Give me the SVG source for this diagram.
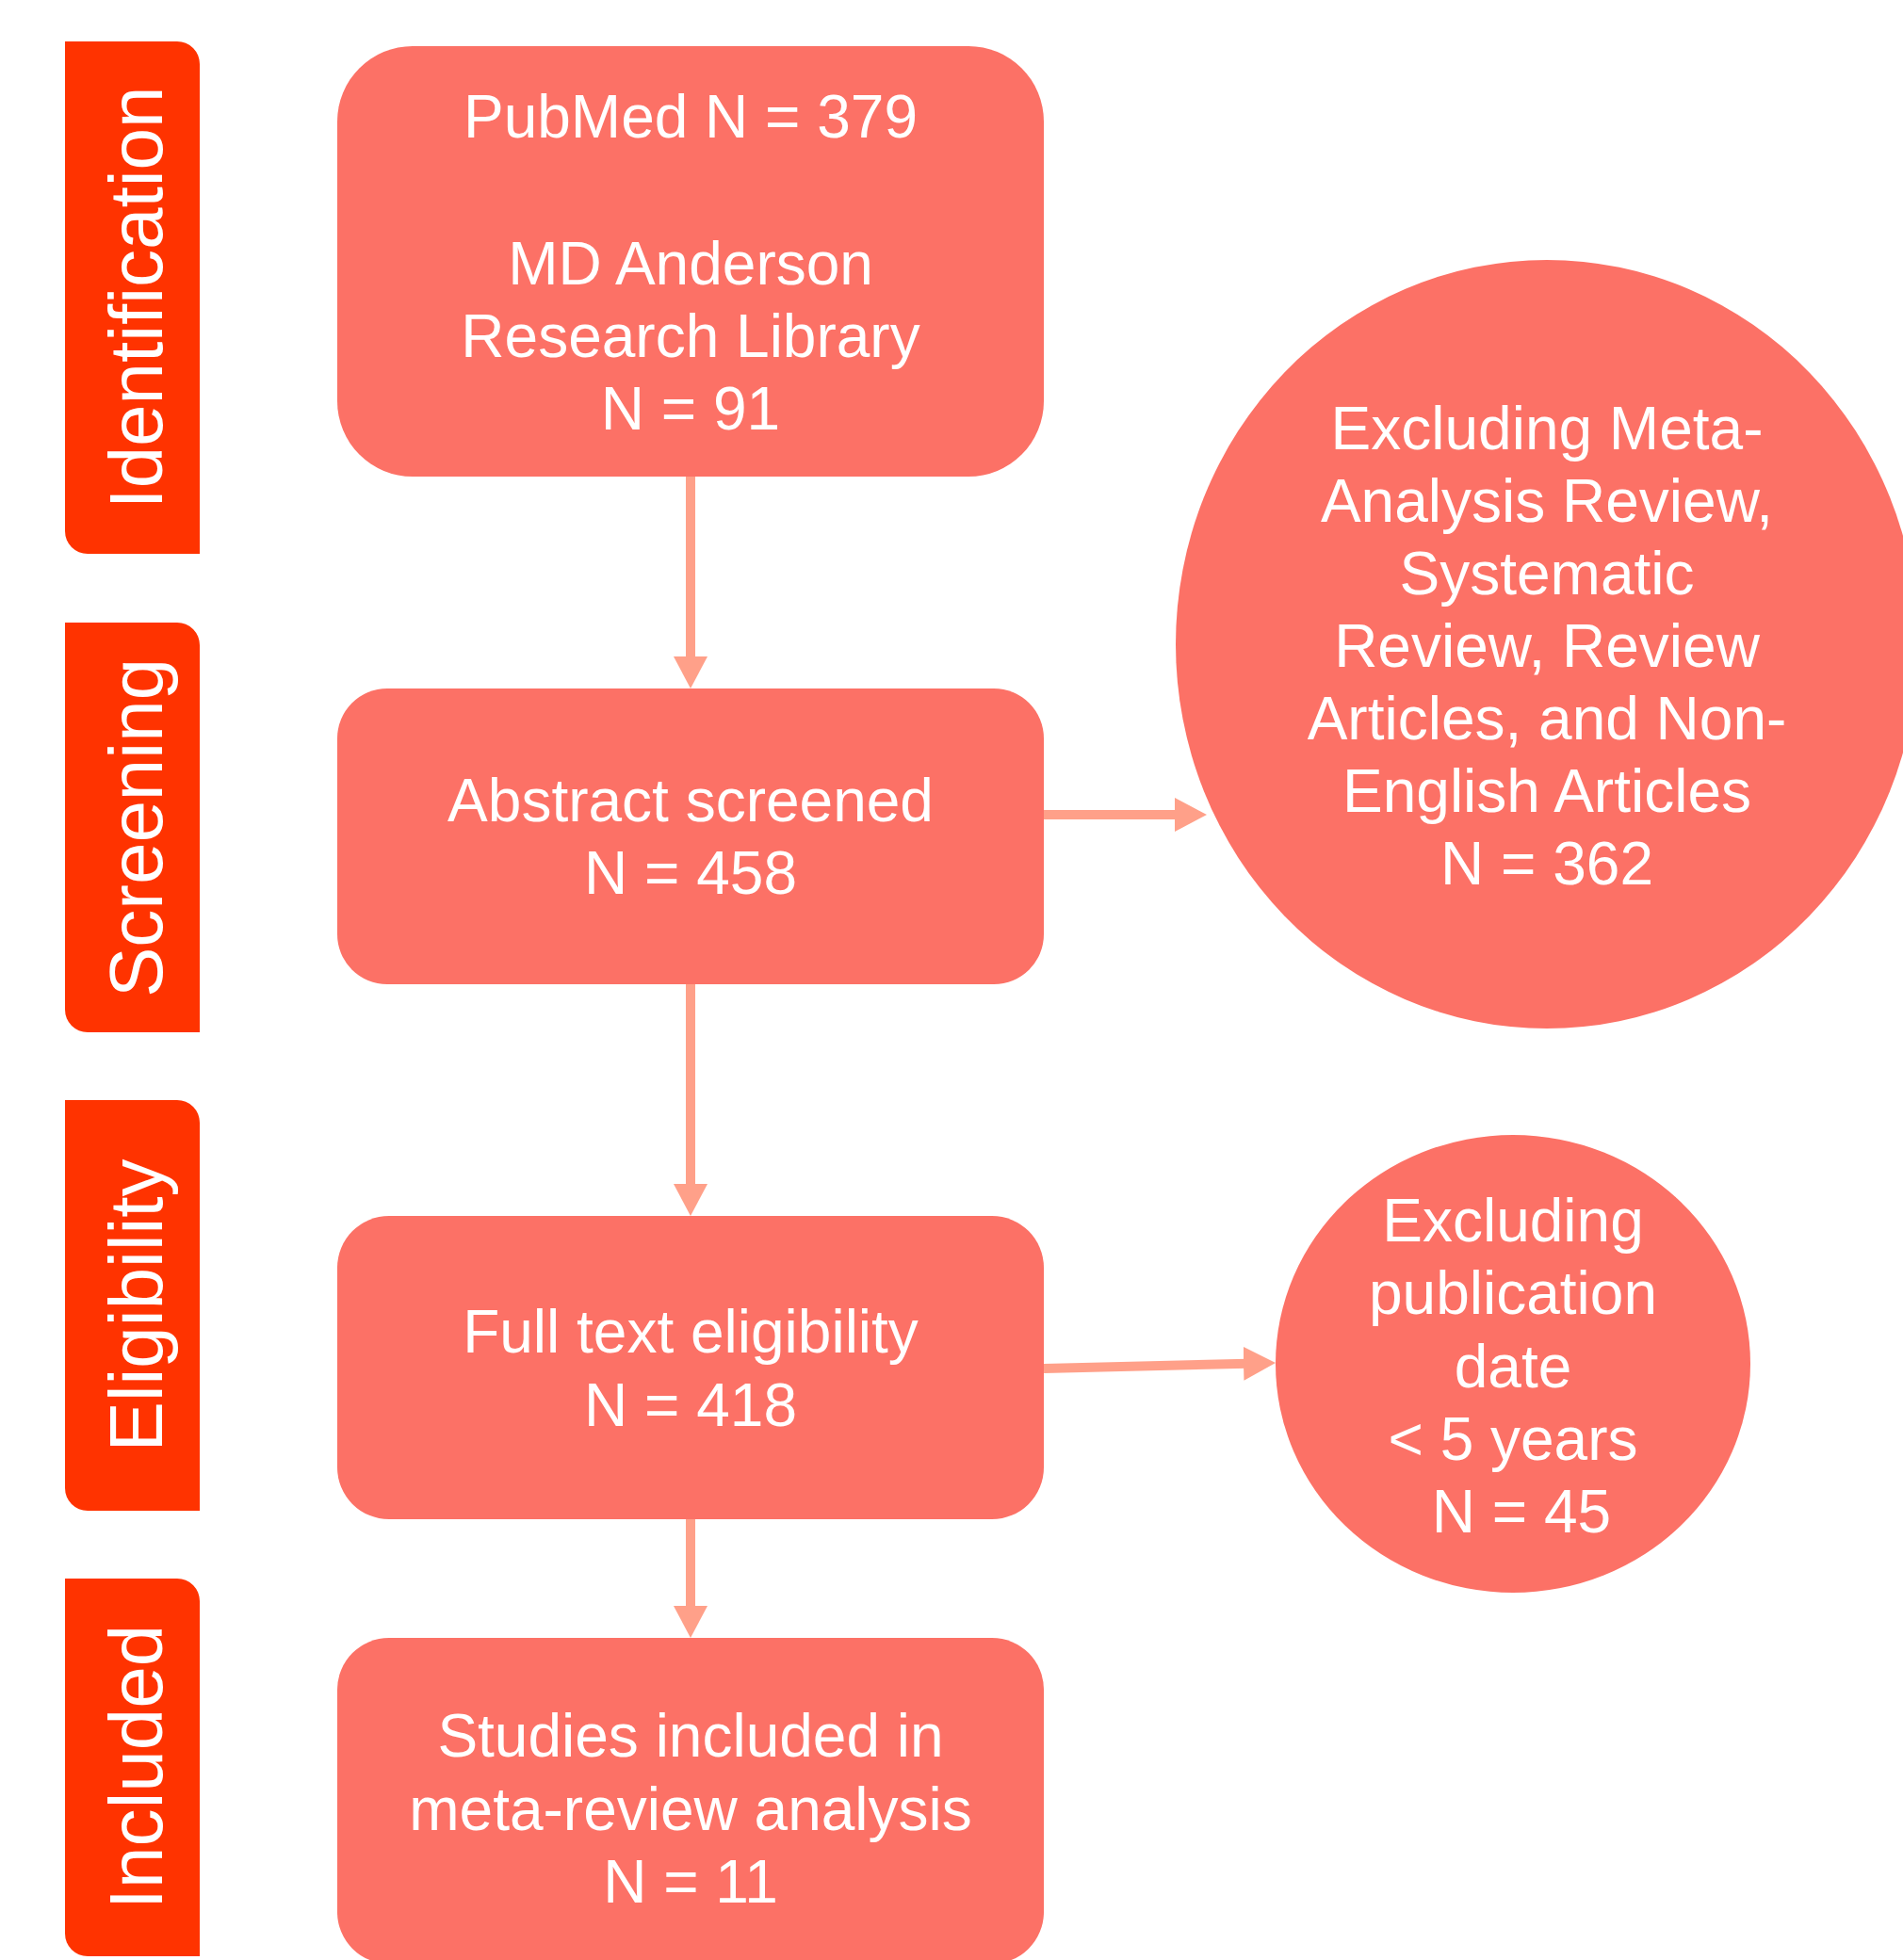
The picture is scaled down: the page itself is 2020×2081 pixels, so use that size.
<svg xmlns="http://www.w3.org/2000/svg" width="2020" height="2081" viewBox="0 0 2020 2081">
  <style>
    .stage { fill: #FF3300; }
    .box { fill: #FC7166; }
    .conn { stroke: #FFA089; stroke-width: 10; fill: none; }
    .lbl { font-family: "Liberation Sans", Arial, sans-serif; font-size: 80px; fill: #FFFFFF; text-anchor: middle; }
    .txt { font-family: "Liberation Sans", Arial, sans-serif; font-size: 64px; fill: #FFFFFF; text-anchor: middle; }
  </style>
  <defs>
    <marker id="ah" markerUnits="userSpaceOnUse" viewBox="0 0 34 36" markerWidth="34" markerHeight="36" refX="4" refY="18" orient="auto">
      <path d="M0,0 L34,18 L0,36 Z" fill="#FFA089"/>
    </marker>
  </defs>
  <rect width="2020" height="2081" fill="#FFFFFF"/>

  <g id="stage-identification">
    <path class="stage" d="M69,44 H188 A24,24 0 0 1 212,68 V588 H93 A24,24 0 0 1 69,564 Z"/>
    <text class="lbl" transform="translate(172,316) rotate(-90)">Identification</text>
  </g>
  <g id="stage-screening">
    <path class="stage" d="M69,661 H188 A24,24 0 0 1 212,685 V1096 H93 A24,24 0 0 1 69,1072 Z"/>
    <text class="lbl" transform="translate(172,879) rotate(-90)">Screening</text>
  </g>
  <g id="stage-eligibility">
    <path class="stage" d="M69,1168 H188 A24,24 0 0 1 212,1192 V1604 H93 A24,24 0 0 1 69,1580 Z"/>
    <text class="lbl" transform="translate(172,1386) rotate(-90)">Eligibility</text>
  </g>
  <g id="stage-included">
    <path class="stage" d="M69,1676 H188 A24,24 0 0 1 212,1700 V2077 H93 A24,24 0 0 1 69,2053 Z"/>
    <text class="lbl" transform="translate(172,1876) rotate(-90)">Included</text>
  </g>

  <g id="connectors">
    <line class="conn" x1="733" y1="506" x2="733" y2="701" marker-end="url(#ah)"/>
    <line class="conn" x1="733" y1="1045" x2="733" y2="1261" marker-end="url(#ah)"/>
    <line class="conn" x1="733" y1="1613" x2="733" y2="1709" marker-end="url(#ah)"/>
    <line class="conn" x1="1108" y1="865" x2="1251" y2="865" marker-end="url(#ah)"/>
    <line class="conn" x1="1108" y1="1453" x2="1324" y2="1447.7" marker-end="url(#ah)"/>
  </g>

  <g id="node-identification">
    <rect class="box" x="358" y="49" width="750" height="457" rx="80" ry="80"/>
    <text class="txt" x="733" y="146">PubMed N = 379</text>
    <text class="txt" x="733" y="302">MD Anderson</text>
    <text class="txt" x="733" y="379">Research Library</text>
    <text class="txt" x="733" y="456">N = 91</text>
  </g>
  <g id="node-screening">
    <rect class="box" x="358" y="731" width="750" height="314" rx="53" ry="53"/>
    <text class="txt" x="733" y="872">Abstract screened</text>
    <text class="txt" x="733" y="949">N = 458</text>
  </g>
  <g id="node-eligibility">
    <rect class="box" x="358" y="1291" width="750" height="322" rx="55" ry="55"/>
    <text class="txt" x="733" y="1436">Full text eligibility</text>
    <text class="txt" x="733" y="1514">N = 418</text>
  </g>
  <g id="node-included">
    <rect class="box" x="358" y="1739" width="750" height="346" rx="55" ry="55"/>
    <text class="txt" x="733" y="1865">Studies included in</text>
    <text class="txt" x="733" y="1943">meta-review analysis</text>
    <text class="txt" x="733" y="2020">N = 11</text>
  </g>
  <g id="node-exclude-screening">
    <ellipse class="box" cx="1642" cy="684" rx="394" ry="408"/>
    <text class="txt" x="1642" y="477">Excluding Meta-</text>
    <text class="txt" x="1642" y="554">Analysis Review,</text>
    <text class="txt" x="1642" y="631">Systematic</text>
    <text class="txt" x="1642" y="708">Review, Review</text>
    <text class="txt" x="1642" y="785">Articles, and Non-</text>
    <text class="txt" x="1642" y="862">English Articles</text>
    <text class="txt" x="1642" y="939">N = 362</text>
  </g>
  <g id="node-exclude-eligibility">
    <ellipse class="box" cx="1606" cy="1448" rx="252" ry="243"/>
    <text class="txt" x="1606" y="1318">Excluding</text>
    <text class="txt" x="1606" y="1395">publication</text>
    <text class="txt" x="1606" y="1473">date</text>
    <text class="txt" x="1606" y="1550">&lt; 5 years</text>
    <text class="txt" x="1615" y="1627">N = 45</text>
  </g>
</svg>
